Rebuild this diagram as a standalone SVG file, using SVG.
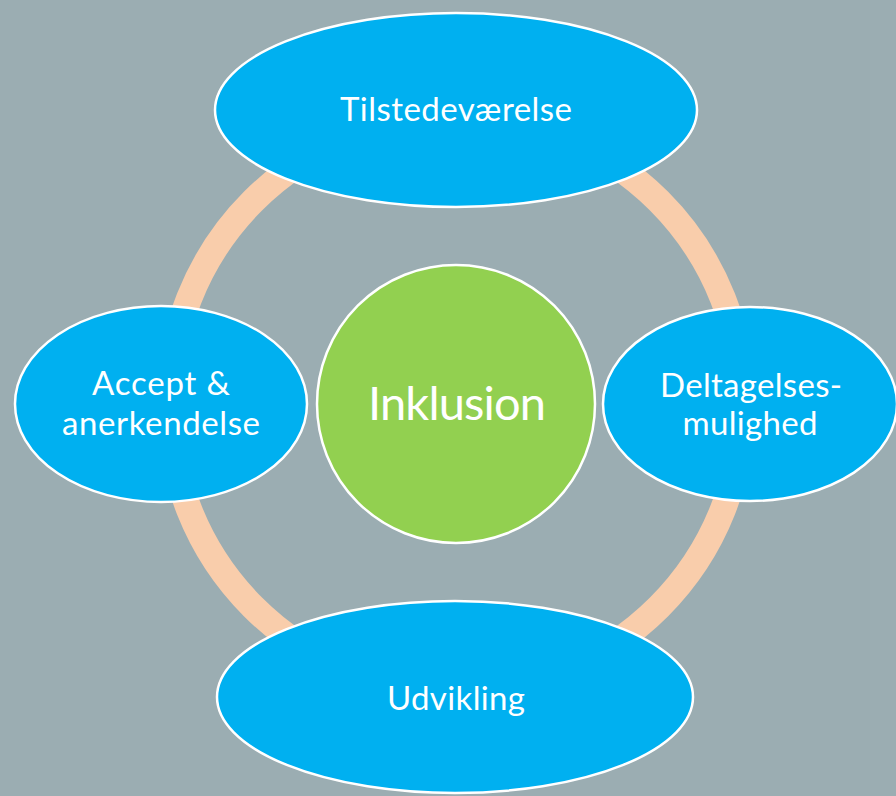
<svg xmlns="http://www.w3.org/2000/svg" width="896" height="796" viewBox="0 0 896 796">
<style>
.node{fill:#00B0F0;stroke:#FFFFFF;stroke-width:2.5}
.center{fill:#92D050;stroke:#FFFFFF;stroke-width:2.5}
.lbl{font-family:Lato,"Open Sans","Liberation Sans",sans-serif;fill:#FFFFFF;text-anchor:middle;font-size:33px}
.big{font-size:47px}
</style>
<rect x="0" y="0" width="896" height="796" fill="#9BADB2"/>
<g id="connectors">
<circle cx="456" cy="404" r="287" fill="none" stroke="#F9CDAB" stroke-width="26"/>
</g>
<g id="node-top">
<ellipse class="node" cx="456" cy="110" rx="241" ry="97"/>
<text class="lbl" x="456" y="121" textLength="232">Tilstedeværelse</text>
</g>
<g id="node-bottom">
<ellipse class="node" cx="455" cy="697" rx="238" ry="96"/>
<text class="lbl" x="456" y="710" textLength="138">Udvikling</text>
</g>
<g id="node-left">
<ellipse class="node" cx="161" cy="404" rx="146" ry="98"/>
<text class="lbl" x="161" y="395" textLength="138">Accept &amp;</text>
<text class="lbl" x="161" y="435" textLength="198">anerkendelse</text>
</g>
<g id="node-right">
<ellipse class="node" cx="750" cy="404" rx="147" ry="97"/>
<text class="lbl" x="751" y="397" textLength="182">Deltagelses-</text>
<text class="lbl" x="750" y="435" textLength="135">mulighed</text>
</g>
<g id="node-center">
<circle class="center" cx="456" cy="404" r="139"/>
<text class="lbl big" x="457" y="420" textLength="178">Inklusion</text>
</g>
</svg>
